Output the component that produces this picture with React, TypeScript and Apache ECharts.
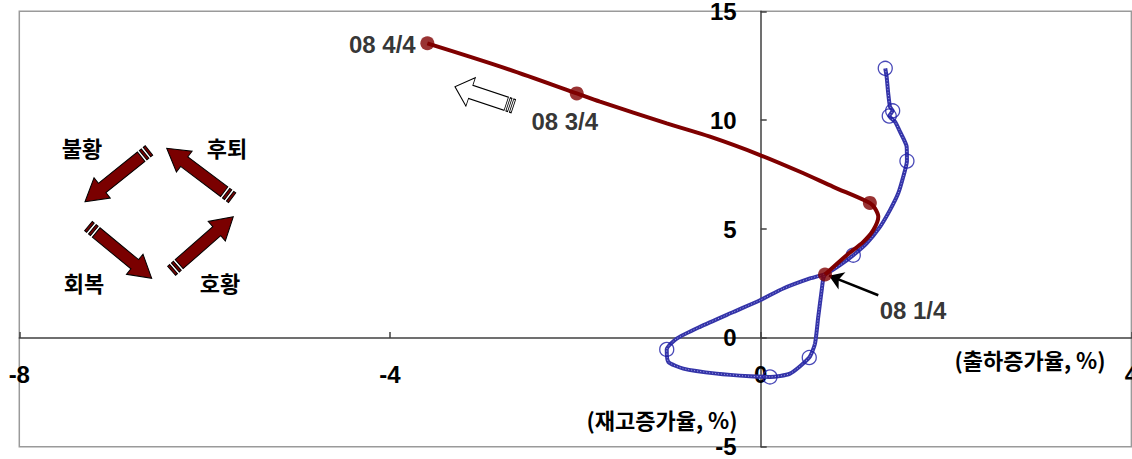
import React, { useEffect, useRef } from "react";
import * as echarts from "echarts";

// ---- axis ticks ----
const xTicks = [-8, -4, 0, 4];
const yTicks = [-5, 0, 5, 10, 15];

// ---- historical cycle (blue) ----
const blueX = [
  1.344, 1.359, 1.376, 1.395, 1.424, 1.387, 1.449, 1.503, 1.575, 1.578, 1.538, 1.484,
  1.395, 1.287, 1.143, 0.999, 0.855, 0.712, 0.532, 0.244, -0.008, -0.296, -0.655, -0.906,
  -1.014, -0.997, -0.835, -0.475, -0.115, 0.1, 0.316, 0.524, 0.586, 0.621, 0.658, 0.675, 0.694,
];
const blueY = [
  12.38, 11.99, 11.23, 10.62, 10.43, 10.19, 9.93, 9.47, 8.78, 8.12, 7.4, 6.64,
  5.87, 5.1, 4.34, 3.8, 3.34, 2.96, 2.73, 2.27, 1.73, 1.19, 0.51, -0.03,
  -0.53, -1.1, -1.41, -1.64, -1.76, -1.79, -1.64, -0.9, -0.26, 0.97, 2.19, 2.73, 2.91,
];
const blueMarkerIdx = [0, 4, 5, 9, 15, 24, 29, 31];

// ---- 2008 path (red) ----
const redX = [
  0.694, 0.928, 1.107, 1.215, 1.269, 1.233, 1.178, 0.783, 0.424, -0.008, -0.547, -1.014,
  -1.734, -1.985, -2.8, -3.597,
];
const redY = [
  2.91, 3.8, 4.41, 4.95, 5.56, 5.95, 6.2, 6.94, 7.63, 8.4, 9.24, 9.85, 10.85, 11.23, 12.45, 13.53,
];

const quarterNames = ["08 1/4", "08 2/4", "08 3/4", "08 4/4"];
const quarterX = [0.694, 1.178, -1.985, -3.597];
const quarterY = [2.91, 6.2, 11.23, 13.53];

const phaseNames = ["불황", "후퇴", "회복", "호황"];
const xAxisTitle = "(출하증가율, %)";
const yAxisTitle = "(재고증가율, %)";

// ---- decorative arrow shape (tip at origin, pointing +x) ----
const ARROW_D =
  "M0 0 L-22 -13 L-22 -6 L-72 -6 L-72 6 L-22 6 L-22 13 Z " +
  "M-74.5 -6 L-77 -6 L-77 6 L-74.5 6 Z " +
  "M-79.5 -6 L-82 -6 L-82 6 L-79.5 6 Z";
echarts.graphic.registerShape("cycleArrow", echarts.graphic.extendPath(ARROW_D, {}));

const KR = '"Noto Sans CJK KR", "Noto Sans", sans-serif';
const NUM = '"Liberation Sans", Arial, sans-serif';

const GRID = { left: 19.3, top: 11.3, width: 1112.1, height: 435.5 };

function buildOption(): any {
  const xMin = xTicks[0];
  const xMax = xTicks[xTicks.length - 1];
  const yMin = yTicks[0];
  const yMax = yTicks[yTicks.length - 1];
  // shift axes so that they cross at the origin
  const xAxisOffset = -(GRID.height * (0 - yMin)) / (yMax - yMin);
  const yAxisOffset = -(GRID.width * (0 - xMin)) / (xMax - xMin);

  const blueData = blueX.map((x, i) => [x, blueY[i]]);
  const blueMarks = blueMarkerIdx.map((i) => [blueX[i], blueY[i]]);
  const redData = redX.map((x, i) => [x, redY[i]]);
  const labelOffsets: any[] = [
    { show: true, position: "inside", offset: [88, 36] },
    { show: false },
    { show: true, position: "inside", offset: [-12, 28] },
    { show: true, position: "inside", offset: [-45, 1] },
  ];
  const quarterData = quarterNames.map((n, i) => ({
    name: n,
    value: [quarterX[i], quarterY[i]],
    label: labelOffsets[i],
  }));

  const arrowStyle = { fill: "#7a0000", stroke: "#000", lineWidth: 1 };
  const arrows = [
    { x: 85, y: 201.7, rotation: -2.466 },
    { x: 166.7, y: 148.3, rotation: 2.494 },
    { x: 151.7, y: 278.3, rotation: -0.691 },
    { x: 233.3, y: 216.7, rotation: 0.719 },
  ].map((a) => ({ type: "cycleArrow", ...a, style: arrowStyle, z: 10 }));

  const phasePos = [
    [82, 147],
    [227, 147],
    [84, 282],
    [220, 282],
  ];
  const textStyle = (t: string) => ({
    text: t,
    font: `bold 22px ${KR}`,
    fill: "#000",
    align: "center",
    verticalAlign: "middle",
    textAlign: "center",
    textVerticalAlign: "middle",
  });
  const phaseTexts = phaseNames.map((t, i) => ({
    type: "text",
    x: phasePos[i][0],
    y: phasePos[i][1],
    z: 10,
    style: textStyle(t),
  }));

  const axisTitles = [
    { t: xAxisTitle, x: 1030, y: 359 },
    { t: yAxisTitle, x: 662, y: 419 },
  ].map((a) => ({ type: "text", x: a.x, y: a.y, z: 10, style: textStyle(a.t) }));

  const hollow = {
    type: "cycleArrow",
    x: 455,
    y: 86.7,
    rotation: 2.82,
    scaleX: 0.75,
    scaleY: 1.15,
    z: 10,
    style: { fill: "#fff", stroke: "#000", lineWidth: 1, strokeNoScale: true },
  };

  const axisLabel = {
    color: "#000",
    fontFamily: NUM,
    fontWeight: "bold",
    fontSize: 24,
  };
  const axisLine = { show: true, onZero: false, lineStyle: { color: "#404040", width: 1.5 } };
  const axisTick = { show: true, inside: true, length: 6, lineStyle: { color: "#404040", width: 1.5 } };

  return {
    animation: false,
    backgroundColor: "#fff",
    grid: {
      ...GRID,
      show: true,
      borderColor: "#9a9a9a",
      borderWidth: 1.5,
      containLabel: false,
      outerBoundsMode: "none",
    },
    xAxis: {
      type: "value",
      position: "bottom",
      offset: xAxisOffset,
      min: xMin,
      max: xMax,
      interval: xTicks[1] - xTicks[0],
      axisLine,
      axisTick,
      splitLine: { show: false },
      axisLabel: { ...axisLabel, margin: 25, showMaxLabel: true, showMinLabel: true },
    },
    yAxis: {
      type: "value",
      position: "left",
      offset: yAxisOffset,
      min: yMin,
      max: yMax,
      interval: yTicks[1] - yTicks[0],
      axisLine,
      axisTick,
      splitLine: { show: false },
      axisLabel: { ...axisLabel, margin: 24, padding: [5, 0, 0, 0] },
    },
    graphic: [...arrows, hollow, ...phaseTexts, ...axisTitles],
    series: [
      {
        type: "line",
        data: blueData,
        showSymbol: false,
        smooth: 0.2,
        z: 2,
        lineStyle: { color: "#3434a8", width: 4 },
        silent: true,
      },
      {
        type: "line",
        data: blueData,
        showSymbol: false,
        smooth: 0.2,
        z: 3,
        lineStyle: { color: "#a4a4ea", width: 1, type: [1, 2] },
        silent: true,
      },
      {
        type: "scatter",
        data: blueMarks,
        symbol: "circle",
        symbolSize: 14,
        z: 4,
        itemStyle: { color: "rgba(0,0,0,0)", borderColor: "#1c1ca6", borderWidth: 1.3 },
        silent: true,
      },
      {
        type: "line",
        data: redData,
        showSymbol: false,
        smooth: 0.3,
        z: 5,
        lineStyle: { color: "#7f0000", width: 4 },
        silent: true,
        markLine: {
          silent: true,
          symbol: ["none", "arrow"],
          symbolSize: 14,
          label: { show: false },
          lineStyle: { color: "#000", width: 2.5, type: "solid" },
          data: [[{ coord: [1.269, 1.96] }, { coord: [0.737, 2.86] }]],
        },
      },
      {
        type: "scatter",
        data: quarterData,
        symbol: "circle",
        symbolSize: 14,
        z: 6,
        itemStyle: { color: "#7f0000" },
        label: {
          color: "#000",
          fontFamily: NUM,
          fontWeight: "bold",
          fontSize: 24,
          formatter: (p: any) => p.name,
        },
        silent: true,
      },
    ],
  };
}

export default function App() {
  const ref = useRef<HTMLDivElement>(null);
  useEffect(() => {
    if (!ref.current) return;
    const chart = echarts.init(ref.current, null, { renderer: "svg" });
    chart.setOption(buildOption());
    return () => chart.dispose();
  }, []);
  return (
    <div
      ref={ref}
      style={{ position: "absolute", left: 0, top: 0, width: 1132, height: 459, background: "#fff" }}
    />
  );
}
